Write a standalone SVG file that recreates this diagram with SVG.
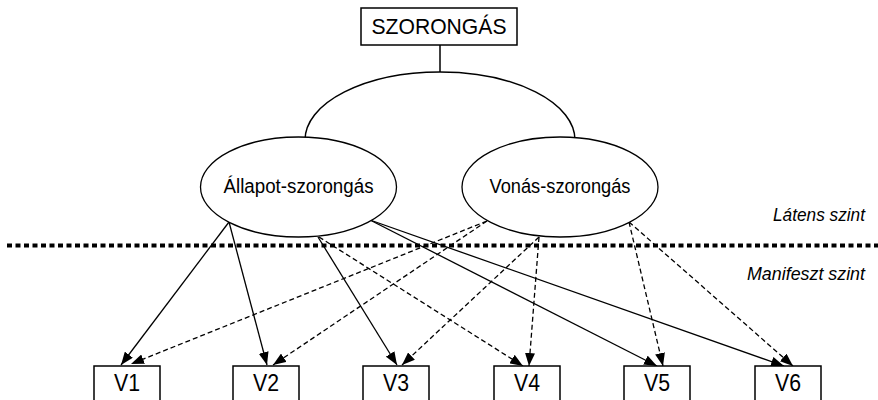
<svg xmlns="http://www.w3.org/2000/svg" width="878" height="400" viewBox="0 0 878 400">
  <style>
    .box { fill: #fff; stroke: #000; stroke-width: 1.5; }
    .ell { fill: #fff; stroke: #000; stroke-width: 1.3; }
    .lbl { font-family: "Liberation Sans", Arial, sans-serif; fill: #000; text-anchor: middle; }
    .lvl { font-family: "Liberation Sans", Arial, sans-serif; font-style: italic; font-size: 18px; fill: #000; text-anchor: end; }
    .solid { stroke: #000; stroke-width: 1.3; fill: none; marker-end: url(#ah); }
    .dash { stroke: #000; stroke-width: 1.3; fill: none; stroke-dasharray: 5 3; marker-end: url(#ah); }
  </style>
  <defs>
    <marker id="ah" markerUnits="userSpaceOnUse" markerWidth="14" markerHeight="10" refX="13" refY="5" orient="auto" viewBox="0 0 14 10">
      <path d="M0,0 L13,5 L0,10 Z" fill="#000"/>
    </marker>
  </defs>
  <rect width="878" height="400" fill="#fff"/>

  <g id="connectors">
    <line x1="440" y1="45" x2="440" y2="72" stroke="#000" stroke-width="1.5"/>
    <path d="M305,140 A135,68 0 0 1 575,140" fill="none" stroke="#000" stroke-width="1.5"/>
    <line class="solid" x1="229" y1="222" x2="121" y2="365"/>
    <line class="solid" x1="229" y1="222" x2="267" y2="365"/>
    <line class="solid" x1="318" y1="237" x2="397" y2="365"/>
    <line class="solid" x1="370" y1="220" x2="657" y2="366"/>
    <line class="solid" x1="370" y1="220" x2="784" y2="366"/>
    <line class="dash" x1="319" y1="237" x2="523" y2="366"/>
    <line class="dash" x1="487" y1="221" x2="131" y2="364"/>
    <line class="dash" x1="487" y1="221" x2="273" y2="365"/>
    <line class="dash" x1="539" y1="237" x2="402" y2="365"/>
    <line class="dash" x1="539" y1="237" x2="529" y2="366"/>
    <line class="dash" x1="629" y1="222" x2="663" y2="366"/>
    <line class="dash" x1="629" y1="222" x2="793" y2="366"/>
  </g>

  <g id="divider">
    <line x1="7" y1="245.5" x2="878" y2="245.5" stroke="#000" stroke-width="4" stroke-dasharray="5 3.5"/>
    <text class="lvl" x="865" y="221" textLength="92" lengthAdjust="spacingAndGlyphs">Látens szint</text>
    <text class="lvl" x="865" y="280" textLength="118" lengthAdjust="spacingAndGlyphs">Manifeszt szint</text>
  </g>

  <g id="szorongas">
    <rect class="box" x="361" y="8" width="156" height="37"/>
    <text class="lbl" x="439" y="34" font-size="22.5" textLength="135" lengthAdjust="spacingAndGlyphs">SZORONGÁS</text>
  </g>

  <g id="allapot">
    <ellipse class="ell" cx="298.5" cy="187" rx="98" ry="50"/>
    <text class="lbl" x="298.5" y="193" font-size="20" textLength="150" lengthAdjust="spacingAndGlyphs">Állapot-szorongás</text>
  </g>

  <g id="vonas">
    <ellipse class="ell" cx="560" cy="187" rx="98" ry="50"/>
    <text class="lbl" x="560" y="193" font-size="20" textLength="141" lengthAdjust="spacingAndGlyphs">Vonás-szorongás</text>
  </g>

  <g id="v1"><rect class="box" x="94" y="366" width="66" height="40"/><text class="lbl" x="127" y="391" font-size="23.5" textLength="26" lengthAdjust="spacingAndGlyphs">V1</text></g>
  <g id="v2"><rect class="box" x="233" y="366" width="66" height="40"/><text class="lbl" x="266" y="391" font-size="23.5" textLength="26" lengthAdjust="spacingAndGlyphs">V2</text></g>
  <g id="v3"><rect class="box" x="363" y="366" width="66" height="40"/><text class="lbl" x="396" y="391" font-size="23.5" textLength="26" lengthAdjust="spacingAndGlyphs">V3</text></g>
  <g id="v4"><rect class="box" x="494" y="366" width="66" height="40"/><text class="lbl" x="527" y="391" font-size="23.5" textLength="26" lengthAdjust="spacingAndGlyphs">V4</text></g>
  <g id="v5"><rect class="box" x="624" y="366" width="66" height="40"/><text class="lbl" x="657" y="391" font-size="23.5" textLength="26" lengthAdjust="spacingAndGlyphs">V5</text></g>
  <g id="v6"><rect class="box" x="755" y="366" width="66" height="40"/><text class="lbl" x="788" y="391" font-size="23.5" textLength="26" lengthAdjust="spacingAndGlyphs">V6</text></g>
</svg>
